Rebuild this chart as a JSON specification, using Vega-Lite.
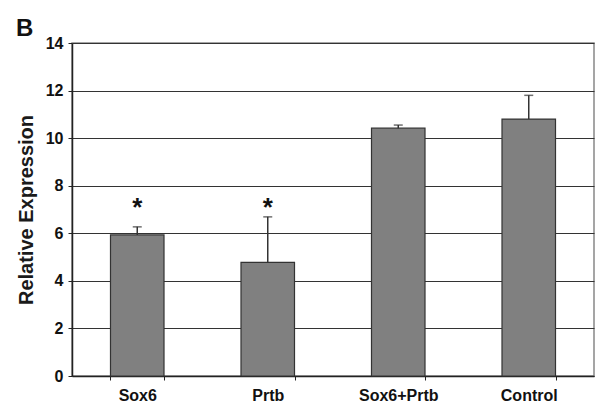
{
  "$schema": "https://vega.github.io/schema/vega-lite/v6.json",
  "width": 522,
  "height": 333,
  "autosize": {"type": "none"},
  "padding": {"left": 72, "top": 43, "right": 3, "bottom": 28},
  "background": "#ffffff",
  "config": {
    "font": "Liberation Sans",
    "view": {"stroke": "#888888", "strokeWidth": 1.5}
  },
  "title": {
    "text": "B",
    "anchor": "start",
    "frame": "group",
    "orient": "top",
    "dx": -56,
    "dy": 7,
    "offset": 1,
    "fontSize": 24,
    "fontWeight": "bold",
    "color": "#111111"
  },
  "data": {
    "values": [
      {"group": "Sox6", "value": 5.93, "upper": 6.27, "sig": "*", "sigPos": 7.3},
      {"group": "Prtb", "value": 4.78, "upper": 6.69, "sig": "*", "sigPos": 7.3},
      {"group": "Sox6+Prtb", "value": 10.42, "upper": 10.55, "sig": "", "sigPos": 7.3},
      {"group": "Control", "value": 10.8, "upper": 11.8, "sig": "", "sigPos": 7.3}
    ]
  },
  "encoding": {
    "x": {
      "field": "group",
      "type": "nominal",
      "sort": null,
      "scale": {"paddingInner": 0.59, "paddingOuter": 0.295},
      "axis": {
        "title": null,
        "labelAngle": 0,
        "labelFontSize": 16,
        "labelFontWeight": "bold",
        "labelColor": "#111111",
        "labelPadding": 7,
        "tickBand": "extent",
        "ticks": true,
        "tickSize": 4,
        "tickColor": "#222222",
        "domainColor": "#222222",
        "domainWidth": 1.5
      }
    }
  },
  "layer": [
    {
      "mark": {"type": "bar", "color": "#808080", "stroke": "#333333", "strokeWidth": 1.2},
      "encoding": {
        "y": {
          "field": "value",
          "type": "quantitative",
          "scale": {"domain": [0, 14]},
          "axis": {
            "title": "Relative Expression",
            "titleFontSize": 20,
            "titleFontWeight": "bold",
            "titleColor": "#1a1a1a",
            "titlePadding": 9,
            "values": [0, 2, 4, 6, 8, 10, 12, 14],
            "labelFontSize": 16,
            "labelFontWeight": "bold",
            "labelColor": "#111111",
            "labelPadding": 5,
            "tickSize": 4,
            "tickColor": "#222222",
            "domainColor": "#222222",
            "domainWidth": 1.5,
            "grid": true,
            "gridColor": "#333333",
            "gridWidth": 1.2
          }
        }
      }
    },
    {
      "mark": {"type": "rule", "color": "#333333", "strokeWidth": 1.5},
      "encoding": {
        "y": {"field": "value", "type": "quantitative"},
        "y2": {"field": "upper"}
      }
    },
    {
      "mark": {"type": "tick", "color": "#333333", "thickness": 1.5, "size": 9},
      "encoding": {
        "y": {"field": "upper", "type": "quantitative"}
      }
    },
    {
      "mark": {"type": "text", "fontSize": 26, "fontWeight": "bold", "color": "#111111", "baseline": "middle", "dy": 6},
      "encoding": {
        "y": {"field": "sigPos", "type": "quantitative"},
        "text": {"field": "sig"}
      }
    }
  ]
}
